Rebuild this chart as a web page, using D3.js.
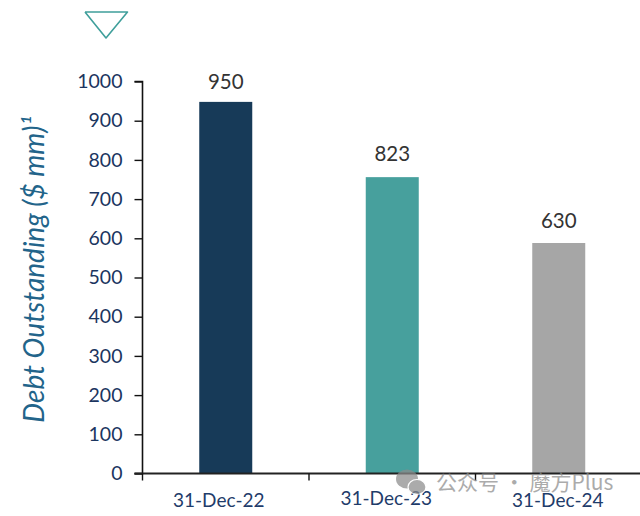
<!DOCTYPE html>
<html><head><meta charset="utf-8">
<script src="https://cdn.jsdelivr.net/npm/d3@7/dist/d3.min.js"></script>
<style>html,body{margin:0;padding:0;background:#fff}svg{display:block}text{font-family:Lato,"Noto Sans",sans-serif}</style>
</head><body><svg id="c" width="640" height="516"></svg>
<script>
const categories = ["31-Dec-22","31-Dec-23","31-Dec-24"];
const barValues = [948,756,588];
const barLabels = ["950","823","630"];
const barColors = ["#173a58","#47a09d","#a6a6a6"];
const yTicks = [0,100,200,300,400,500,600,700,800,900,1000];
const categoryLabelOffsets = [-7,-6,-1];
const categoryLabelDy = [0,-2,0];
const valueLabelGap = [13,16,15];

const svg = d3.select("#c");
const y = d3.scaleLinear().domain([0,1000]).range([473.5,81.5]);
const x = d3.scaleBand().domain(categories).range([142.5,642]).paddingInner(0).paddingOuter(0);
const barW = 53;

// y axis
const gy = svg.append("g").attr("transform","translate(142.5,0)")
  .call(d3.axisLeft(y).tickValues(yTicks).tickSize(8).tickPadding(12).tickFormat(d3.format("d")));
gy.selectAll(".domain").attr("stroke","#111").attr("stroke-width",1.6).attr("d","M-8,81.5H0V473.5H-8");
gy.selectAll(".tick line").attr("stroke","#111").attr("stroke-width",1.4);
gy.selectAll(".tick text").attr("fill","#1b3560").attr("font-size",19.5).style("font-family","Lato,sans-serif");

// bars
svg.selectAll("rect.bar").data(categories).join("rect").attr("class","bar")
  .attr("x",d=>x(d)+x.bandwidth()/2-barW/2)
  .attr("width",barW)
  .attr("y",(d,i)=>y(barValues[i]))
  .attr("height",(d,i)=>y(0)-y(barValues[i]))
  .attr("fill",(d,i)=>barColors[i]);

// x axis
const gx = svg.append("g").attr("transform","translate(0,473.5)")
  .call(d3.axisBottom(x).tickSize(0).tickFormat(""));
gx.selectAll(".domain").attr("stroke","#222").attr("stroke-width",1.8).attr("d","M134.5,0H640");
gx.selectAll(".tick").remove();
svg.append("g").selectAll("line").data(categories).join("line")
  .attr("x1",d=>x(d)).attr("x2",d=>x(d)).attr("y1",473.5).attr("y2",480.5)
  .attr("stroke","#111").attr("stroke-width",1.4);

// category labels
svg.selectAll("text.cat").data(categories).join("text").attr("class","cat")
  .attr("x",(d,i)=>x(d)+x.bandwidth()/2+categoryLabelOffsets[i])
  .attr("y",(d,i)=>507+categoryLabelDy[i])
  .attr("text-anchor","middle").attr("font-size",19).attr("fill","#1f3c6a")
  .text(d=>d);

// value labels
svg.selectAll("text.val").data(categories).join("text").attr("class","val")
  .attr("x",d=>x(d)+x.bandwidth()/2)
  .attr("y",(d,i)=>y(barValues[i])-valueLabelGap[i])
  .attr("text-anchor","middle").attr("font-size",20.5).attr("fill","#333")
  .text((d,i)=>barLabels[i]);

// y title
svg.append("text").attr("transform","translate(44,269.5) rotate(-90)")
  .attr("text-anchor","middle").attr("font-size",28).attr("font-style","italic").attr("fill","#22648a")
  .text("Debt Outstanding ($ mm)¹");

// triangle marker
svg.append("path").attr("d",d3.line()([[85,12],[127.5,12],[106,38],[85,12]]))
  .attr("fill","none").attr("stroke","#3f9f9b").attr("stroke-width",1.6).attr("stroke-linejoin","round");

// watermark
const wm = svg.append("g").attr("fill","#8c8c8c").attr("opacity",0.72);
wm.append("ellipse").attr("cx",407).attr("cy",479).attr("rx",11).attr("ry",9.5);
wm.append("ellipse").attr("cx",417).attr("cy",487).attr("rx",9).attr("ry",7.5).attr("stroke","#fff").attr("stroke-width",1.2);
svg.append("text").attr("x",436).attr("y",490).attr("font-size",21).attr("fill","#8c8c8c").attr("opacity",0.72)
  .style("font-family","'Noto Sans CJK SC',sans-serif").text("公众号 · 魔方Plus");
</script></body></html>
